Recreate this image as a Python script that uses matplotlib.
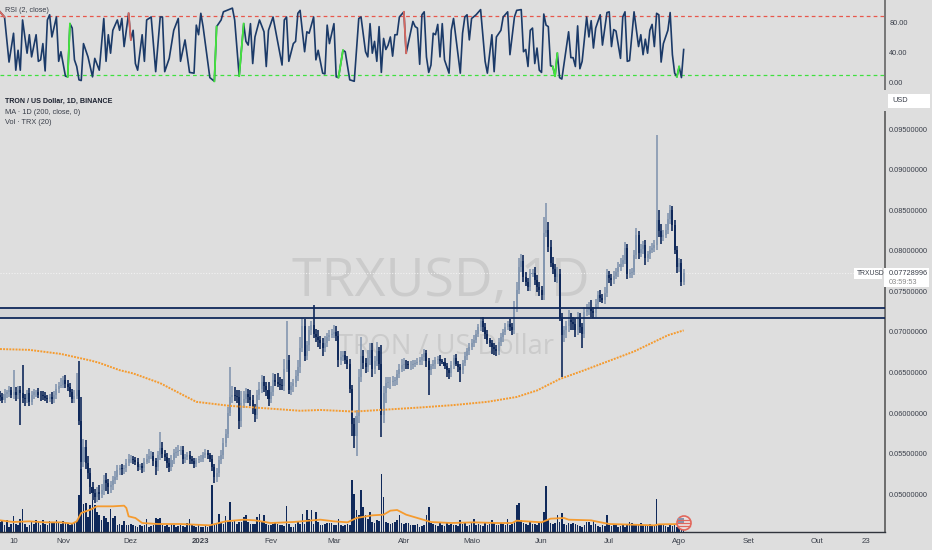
import numpy as np
import pandas as pd
import matplotlib
matplotlib.use('Agg')
import matplotlib.pyplot as plt
from matplotlib.patches import Rectangle, Circle

# prices are in thousandths of a USD
close = [62.0,61.6,62.4,62.6,62.8,62.3,62.6,62.2,62.9,62.5,
	61.9,61.7,62.5,61.4,62.2,62.6,62.6,62.3,62.2,62.1,
	61.9,61.8,62.0,61.7,62.2,63.0,63.4,63.5,64.1,63.6,
	63.2,62.6,61.7,62.1,62.9,59.0,54.0,55.8,53.9,52.6,
	50.9,50.2,49.7,50.3,50.1,50.6,51.8,51.4,50.9,51.1,
	51.8,52.2,53.0,53.2,53.1,53.2,53.9,54.4,54.4,54.2,
	54.0,53.4,53.5,53.2,54.0,54.4,54.7,54.7,54.1,53.4,
	54.8,55.7,55.0,54.6,53.9,53.4,54.2,55.1,55.2,55.3,
	55.5,54.4,54.6,54.8,54.4,54.1,53.8,54.2,54.3,54.4,
	54.8,55.1,54.8,54.4,53.4,52.2,52.6,54.2,54.9,56.3,
	57.5,60.0,62.0,62.2,62.1,62.0,59.0,61.2,61.8,62.4,
	62.0,61.6,60.5,59.8,62.2,63.0,63.9,63.3,62.9,61.8,
	62.6,64.1,63.9,63.6,63.5,63.3,65.5,66.6,62.9,63.3,
	63.7,64.6,65.7,68.0,70.7,67.0,68.4,70.2,70.9,69.8,
	69.4,69.0,68.6,68.0,68.7,69.4,69.6,69.8,70.0,69.5,
	66.5,66.9,67.2,66.6,66.1,63.0,58.7,57.2,59.6,64.5,
	67.0,66.2,65.7,66.8,67.8,65.5,66.4,67.6,66.0,59.8,
	62.5,63.7,63.8,63.9,64.0,64.1,64.8,65.5,65.9,66.1,
	66.0,65.9,65.9,66.1,66.2,66.3,66.5,66.9,67.4,66.4,
	65.3,65.8,66.0,66.5,66.7,66.4,66.3,65.8,65.3,64.9,
	65.9,66.8,66.1,65.7,65.3,66.2,67.0,67.6,68.2,68.6,
	69.0,69.8,70.6,71.3,70.6,69.8,69.0,68.6,68.1,67.9,
	67.6,68.8,69.4,70.0,70.6,71.0,70.6,70.2,73.1,75.2,
	78.0,78.7,76.8,76.2,75.6,77.2,77.3,76.4,75.6,75.2,
	74.6,82.2,82.6,80.5,78.5,77.8,76.8,77.2,71.9,69.6,
	70.2,70.7,71.5,71.2,71.0,70.2,71.7,70.6,69.8,72.5,
	72.7,73.1,72.6,72.3,73.5,74.6,74.2,74.0,74.8,77.0,
	76.6,76.4,76.9,77.4,78.0,78.4,78.9,80.3,77.2,77.3,
	77.4,79.5,82.0,79.7,80.2,80.7,79.1,79.6,80.1,80.4,
	80.7,83.8,82.5,81.7,82.0,82.6,83.9,85.0,83.2,80.1,
	78.0,78.5,76.2,77.3]

wick_up = [.4,.5,.6,.3,.5,.4,2.7,.6,.4,.5,
	3.4,.5,.4,.6,.5,.4,.3,.5,.4,.5,
	.5,.4,.4,.6,.5,.6,.5,.8,.5,.6,
	.5,.5,.4,.8,2.0,3.5,3.0,1.0,.9,.8,
	.7,.6,.5,.6,.8,.7,.6,.8,.5,.6,
	.5,.7,.6,.4,.5,.4,.5,.6,.4,.3,
	.4,.5,.3,.4,.5,.6,.9,.7,.5,.4,
	.6,2.0,.8,.5,.5,.6,.7,.5,.6,.8,
	.5,.5,.4,.4,.5,.3,.4,.3,.4,.5,
	.4,.5,.4,.3,.4,.4,.6,.5,.6,.7,
	.5,.8,3.7,1.2,1.0,.8,.9,1.5,.9,.7,
	.6,.8,.7,.6,.7,.9,.8,.7,.6,.9,
	.7,.8,.7,1.0,.8,.7,1.2,4.7,.6,.5,
	.5,.7,.9,1.4,1.0,.9,.5,.6,.5,2.4,
	.6,.8,.5,.7,.8,.5,.7,.6,.9,.7,
	.6,.7,.5,.4,.5,.6,.5,.7,.8,1.0,
	2.4,.8,.6,1.0,.9,.8,.7,1.2,.6,2.4,
	.8,.7,.6,.5,.6,.4,.5,.6,.8,.7,
	.5,.4,.5,.4,.3,.5,.4,.4,.5,.4,
	.4,.3,.5,.4,.4,.5,.3,.5,.4,.3,
	.5,.4,.5,.3,.4,.4,.5,.4,.4,.5,
	.6,.5,.4,.5,.6,.5,.4,.3,.4,.5,
	.5,.4,.5,.4,.5,.4,.6,.5,.7,.9,
	1.1,.9,.8,.6,.5,.6,.5,.7,.6,.5,
	.5,2.0,3.3,1.0,.8,.7,.6,.8,.5,.4,
	.5,.7,1.2,.8,.6,.7,.8,.6,.5,.6,
	.7,.6,.8,.5,.6,.5,.6,.5,.7,.8,
	.5,.6,.6,.5,.6,.7,.6,.8,.5,.4,
	.5,.6,.8,.5,.6,.5,.6,.4,.5,.5,
	.6,10.5,1.2,.8,.6,.7,.8,.6,.5,.6,
	.5,.6,.5,.4]

wick_down = [.5,.4,.4,.5,.6,.4,.5,.7,.4,4.0,
	.6,.8,.5,.5,.4,.5,.6,.4,.7,.5,
	.4,.5,.4,.6,.5,.4,.5,.3,.4,.5,
	.5,.6,.5,.4,.3,.4,1.5,.6,.8,.7,
	.8,.9,.7,.6,.8,.6,.7,1.0,.9,.7,
	.6,.5,.4,.6,.7,.6,.5,.4,.5,.4,
	.4,.5,.4,.6,.4,.3,.5,.4,.6,1.0,
	.5,.6,.5,.5,.6,.7,.5,.4,.6,.5,
	.4,.7,.5,.4,.6,.4,.6,.4,.3,.3,
	.4,.3,.4,.4,.5,.8,.7,.5,.4,.5,
	.5,.6,.4,.7,.6,.8,.9,.7,.6,.5,
	.8,.7,.6,.9,.5,.6,.5,.7,.8,.9,
	.6,.5,.6,.4,.7,.5,.6,.4,.5,.6,
	.7,.5,.6,.7,.5,.6,.5,.7,.6,.6,
	.6,.8,.7,1.0,.5,.6,.5,.4,.5,.6,
	.8,.6,.5,.6,.7,.5,1.5,1.5,2.5,.8,
	.6,.7,.8,.6,.9,1.0,.7,.6,.7,2.7,
	1.0,1.2,.6,.8,.5,.7,.6,.5,.4,.7,
	.5,.4,.6,.5,.4,.3,.4,.6,.5,.7,
	3.1,.6,.4,.5,.4,.6,.3,.4,.8,.7,
	.4,.5,.3,.6,1.4,.5,.4,.5,.4,.4,
	.5,.3,.4,.5,.6,.7,.5,.4,.8,.7,
	.6,.4,.5,.6,.4,.3,.5,.6,.5,.6,
	.5,.6,.7,.5,.6,.5,.4,.6,.7,.8,
	.6,.7,.5,.6,.5,.7,.6,.8,.5,5.1,
	.8,1.0,.7,.9,.7,.8,.6,.7,1.8,.6,
	.5,.6,.7,.6,.5,.6,.5,.4,.6,.5,
	.6,.7,.5,.4,.6,.5,.4,.5,.7,.5,
	.6,.4,.5,.7,.5,.6,.8,.5,.6,.4,
	.5,.6,.8,.9,.5,.4,.5,.6,.7,.5,
	.7,.6,.5,.4]

volume = [30,35,20,35,15,25,47,25,20,40,
	68,25,15,22,30,25,35,30,20,35,
	25,20,32,30,30,35,30,25,32,28,
	28,22,25,30,32,110,190,85,87,45,
	80,95,80,60,52,37,47,42,30,68,
	42,47,22,25,22,32,22,20,25,20,
	18,15,22,18,20,38,15,18,20,42,
	38,42,20,18,22,15,25,20,15,18,
	22,18,15,28,38,25,18,15,22,15,
	15,18,15,20,140,22,25,55,30,25,
	47,30,90,30,35,25,30,30,45,50,
	30,25,25,25,45,55,30,50,25,20,
	20,25,30,25,20,20,18,78,25,15,
	15,25,30,25,55,25,65,40,65,25,
	60,30,20,22,25,28,28,28,20,20,
	38,22,18,20,25,22,155,115,65,50,
	125,75,50,40,60,30,28,35,32,175,
	105,30,28,25,28,30,35,50,28,25,
	28,28,22,22,20,25,15,18,22,50,
	75,28,25,20,18,28,20,18,30,20,
	25,20,22,18,35,25,30,18,22,28,
	40,20,25,22,18,30,22,25,35,28,
	22,22,28,25,22,38,22,25,30,80,
	88,35,28,25,22,30,25,25,20,28,
	30,60,138,35,28,25,28,50,30,57,
	25,22,28,25,28,25,22,18,15,20,
	30,30,22,35,25,18,15,20,18,50,
	20,18,22,25,15,18,20,15,25,30,
	28,22,20,25,28,22,20,18,25,22,
	20,100,22,25,20,18,15,22,18,20,
	15,20,18,15]

vol_ma_bar = [0,6,13,20,27,32,34,36,40,43,50,55,56,57,60,63,70,80,93,100,108,113,120,
	130,142,148,154,158,165,170,173,176,180,185,191,200,210,220,227,229,240,244,
	250,252,262,264,270,280,290,292,303]
vol_ma = [35,30,32,29,29,25,32,57,67,77,77,79,72,47,42,27,24,24,20,32,37,35,27,
	30,37,32,29,42,50,52,64,66,52,42,30,27,29,27,27,34,29,40,
	42,37,35,32,24,22,20,23,24]

ma200_bar = [0,13,27,40,44,53,59,71,80,87,102,118,133,142,157,186,201,216,229,238,248,259,281,296,303]
ma200 = [67.9,67.8,67.3,66.5,66.2,65.3,64.9,63.7,62.4,61.4,60.9,60.6,60.3,60.4,60.2,60.7,61.0,61.4,62.0,62.8,64.2,65.3,67.6,69.6,70.2]

rsi_bar = [0,2,4,6,7,8,9,10,12,13,14,16,17,18,19,20,21,22,23,25,26,27,29,30,31,32,33,34,35,36,37,39,41,42,44,
	46,47,48,49,50,52,53,54,55,57,58,59,60,61,63,64,65,67,69,71,72,73,75,77,79,80,82,84,86,87,88,89,90,93,95,96,
	98,99,103,104,106,108,109,110,111,112,113,115,117,118,119,121,125,126,127,128,130,131,132,133,135,136,137,139,
	140,141,143,144,145,146,148,149,150,152,153,155,157,159,160,162,163,164,165,166,167,168,169,170,171,172,173,
	174,175,176,177,179,180,183,184,185,186,187,188,189,190,191,192,193,194,195,196,197,199,200,201,204,205,206,
	207,208,209,211,213,215,216,218,219,220,222,223,225,226,228,229,231,232,233,234,235,236,237,238,239,240,241,
	242,243,244,245,246,247,248,249,252,253,254,255,256,257,258,260,261,262,263,264,266,267,269,270,271,272,273,
	275,276,277,278,279,281,283,284,285,286,287,288,289,290,291,292,293,294,296,297,298,299,300,301,302,303]
rsi_val = [95,88,27,66,16,43,16,84,39,64,34,64,28,30,52,15,84,91,61,88,28,41,8,7,79,73,30,21,3,2,52,34,7,32,16,
	86,28,64,39,70,84,70,86,48,93,57,70,25,16,64,28,84,88,14,88,88,14,32,70,86,28,57,13,12,77,64,93,75,6,1,75,
	84,95,100,84,8,79,55,50,79,25,61,84,68,21,70,88,23,84,88,28,52,55,93,97,41,68,66,88,
	30,43,12,11,77,52,79,7,6,43,41,3,1,86,88,41,34,79,39,55,28,75,13,59,44,50,61,
	35,64,64,88,95,39,82,75,73,24,91,95,34,13,23,66,64,78,34,79,30,12,70,86,12,66,88,
	91,57,86,91,98,28,12,64,14,61,70,88,95,37,88,97,98,41,44,21,70,73,25,46,16,13,92,
	77,75,22,21,8,39,6,4,68,33,33,21,76,18,28,88,61,83,46,73,91,50,94,95,48,71,69,
	32,88,95,28,29,95,48,64,37,58,39,70,78,48,93,91,27,52,70,94,37,12,7,21,6,44]
rsi_green_from = [30,95,106,150,245,246,300]
rsi_red_from = [0,57,179]

level_lines = [73.0, 71.69]
last_price = 77.28996

price_ticks = [50,55,60,65,70,75,80,85,90,95]
rsi_ticks = [0,40,80]
month_dates = ['2022-10-10','2022-11-01','2022-12-01','2023-01-01','2023-02-01','2023-03-01','2023-04-01',
	'2023-05-01','2023-06-01','2023-07-01','2023-08-01','2023-09-01','2023-10-01','2023-10-23']
month_labels = ['10','Nov','Dez','2023','Fev','Mar','Abr','Maio','Jun','Jul','Ago','Set','Out','23']

BG = '#dedede'
NAVY = '#10295a'
SLATE = '#8497b0'
ORANGE = '#f59b2f'
TXT = '#3a3f4a'

plt.rcParams['font.family'] = 'Liberation Sans'

dates = pd.date_range('2022-10-04', periods=len(close))
x0, x1 = dates[0], dates[0] + pd.Timedelta(days=392)

close = np.array(close)
opens = np.r_[62.3, close[:-1]]
tops = np.maximum(opens, close)
bots = np.minimum(opens, close)
highs = tops + np.array(wick_up)
lows = bots - np.array(wick_down)
up = close >= opens

W, H = 932, 550
fig = plt.figure(figsize=(W/100, H/100), dpi=100, facecolor=BG)

# RSI pane
ax_rsi = fig.add_axes([0, 1-92/H, 884.5/W, 92/H], facecolor='none')
ax_rsi.set_xlim(x0, x1)
ax_rsi.set_ylim(-13.5, 111)
ax_rsi.axhline(90, color='#e8574c', lw=0.9, ls=(0, (3, 2.5)))
ax_rsi.axhline(10, color='#3fe03f', lw=0.9, ls=(0, (3, 2.5)))
rsi_x = dates[rsi_bar]
ax_rsi.plot(rsi_x, rsi_val, color='#1b3a68', lw=1.2, zorder=3)
for k in rsi_green_from:
	j = rsi_bar.index(k)
	ax_rsi.plot(rsi_x[j:j+2], rsi_val[j:j+2], color='#44e63c', lw=1.3, zorder=4)
for k in rsi_red_from:
	j = rsi_bar.index(k)
	ax_rsi.plot(rsi_x[j:j+2], rsi_val[j:j+2], color='#d9695f', lw=1.3, zorder=4)
ax_rsi.yaxis.tick_right()
ax_rsi.set_yticks(rsi_ticks, [f'{v:.2f}' for v in rsi_ticks])
ax_rsi.set_xticks([])

# price pane, volume shares it on its own scale
ax = fig.add_axes([0, 1-532/H, 884.5/W, 440/H], facecolor='none')
ax_vol = ax.twinx()
ax.set_zorder(ax_vol.get_zorder()+1)
ax_vol.patch.set_visible(False)
ax_vol.bar(dates, volume, width=0.72, color=NAVY, zorder=2)
ax_vol.plot(dates[vol_ma_bar], vol_ma, color=ORANGE, lw=1.3, zorder=3)
ax_vol.set_ylim(0, 1320)
ax_vol.set_yticks([])

ax.axhspan(level_lines[1], level_lines[0], color='#d3d4d6', lw=0, zorder=1)
for lv in level_lines:
	ax.axhline(lv, color=NAVY, lw=1.3, zorder=5)
ax.axhline(last_price, color='#f2f2f2', lw=0.8, ls=(0, (1, 1.5)), zorder=1)
ax.plot(dates[ma200_bar], ma200, color=ORANGE, lw=1.4, ls=(0, (1, 0.6)), zorder=4)

cols = np.where(up, SLATE, NAVY)
ax.vlines(dates, lows, highs, color=cols, lw=1.2, zorder=3)
ax.bar(dates, tops-bots, bottom=bots, width=0.9, color=cols, zorder=3)

ax.set_xlim(x0, x1)
ax.set_ylim(95-403/8.12, 95+37/8.12)
ax.yaxis.tick_right()
ax.set_yticks(price_ticks, [f'{v/1000:.8f}' for v in price_ticks])
ax.set_xticks(pd.to_datetime(month_dates), month_labels)
ax.get_xticklabels()[3].set_fontweight('bold')

for a in (ax_rsi, ax, ax_vol):
	for s in a.spines.values():
		s.set_visible(False)
	a.spines['right'].set_visible(True)
	a.spines['right'].set_color('#6f6f6f')
	a.spines['right'].set_linewidth(1.3)
ax.spines['bottom'].set_visible(True)
ax.spines['bottom'].set_color('#30343c')
ax.spines['bottom'].set_linewidth(1.0)
ax.tick_params(axis='y', length=0, pad=3.4, labelsize=5.3, labelcolor=TXT)
ax.tick_params(axis='x', length=0, pad=4.5, labelsize=5.7, labelcolor=TXT)
ax_rsi.tick_params(axis='y', length=0, pad=3.4, labelsize=5.3, labelcolor=TXT)

# watermark sits behind the chart panes
wm = fig.add_axes([0, 0, 1, 1], facecolor='none', zorder=ax_vol.get_zorder()-1)
wm.set_xlim(0, W)
wm.set_ylim(H, 0)
wm.axis('off')
wm.text(441, 282, 'TRXUSD, 1D', fontsize=38.5, color='#cbcbcb', ha='center', va='center', family='Open Sans')
wm.text(446, 347, 'TRON / US Dollar', fontsize=19.6, color='#cbcbcb', ha='center', va='center', family='Open Sans')

# overlay in pixel coordinates for labels and boxes
pix = fig.add_axes([0, 0, 1, 1], facecolor='none', zorder=10)
pix.set_xlim(0, W)
pix.set_ylim(H, 0)
pix.axis('off')

pix.text(5, 10, 'RSI (2, close)', fontsize=5.2, color=TXT, va='center')
pix.text(5, 101, 'TRON / US Dollar, 1D, BINANCE', fontsize=5.1, color='#1c2230', va='center', fontweight='bold')
pix.text(5, 112, 'MA · 1D (200, close, 0)', fontsize=5.3, color=TXT, va='center')
pix.text(5, 122, 'Vol · TRX (20)', fontsize=5.3, color=TXT, va='center')

# covers the axis line behind the USD button
pix.add_patch(Rectangle((882, 90), 6, 21, color=BG, lw=0))
pix.add_patch(Rectangle((887.5, 94), 42, 14, color='white', lw=0))
pix.text(892, 101, 'USD', fontsize=5.3, color=TXT, va='center')
pix.add_patch(Rectangle((854, 268), 28, 11, color='white', lw=0))
pix.text(856.5, 273.5, 'TRXUSD', fontsize=4.9, color=TXT, va='center')
pix.add_patch(Rectangle((884, 268), 45, 19, color='white', lw=0))
pix.text(889, 273.5, '0.07728996', fontsize=5.3, color=TXT, va='center')
pix.text(889, 282, '03:59:53', fontsize=5.3, color='#8a8a8a', va='center')

# flag badge over the last bars
pix.add_patch(Circle((684, 523), 7, fc='#e9e2e0', ec='#e2675c', lw=1.2))
for yy in (520, 523, 526):
	pix.plot([678, 690], [yy, yy], color='#e2675c', lw=0.9)
pix.add_patch(Rectangle((678, 518), 6, 5, color='#8497b0', lw=0))

fig.savefig('out.png', dpi=100, facecolor=BG)
